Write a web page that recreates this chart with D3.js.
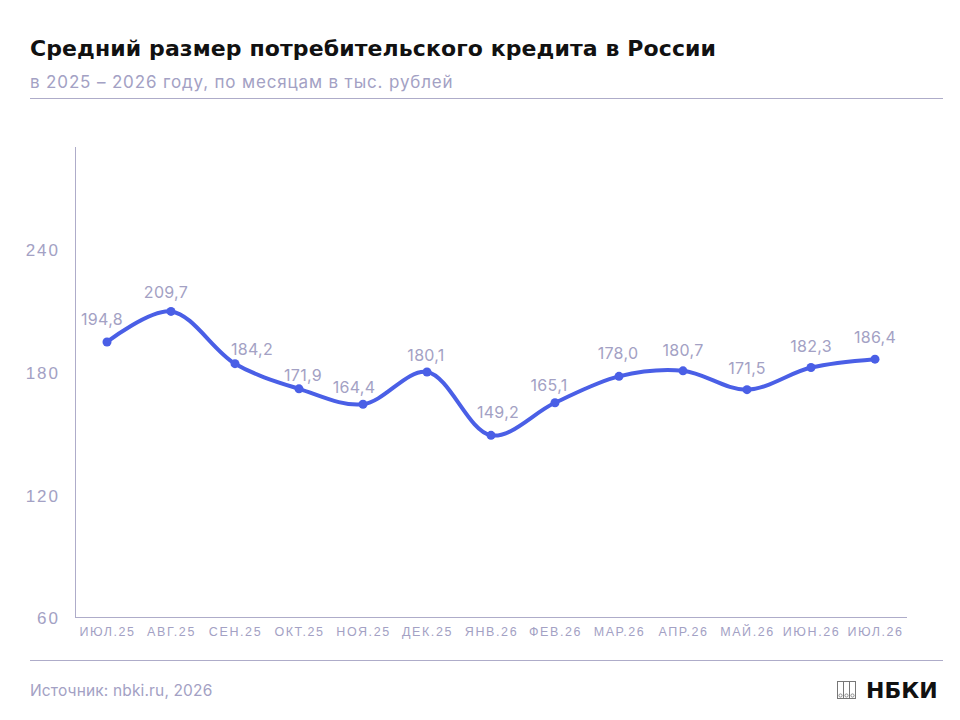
<!DOCTYPE html>
<html>
<head>
<meta charset="utf-8">
<script src="https://cdn.jsdelivr.net/npm/d3@7"></script>
<style>
  body { margin: 0; background: #fff; }
  svg { display: block; font-family: Inter, "Noto Sans", sans-serif; }
</style>
</head>
<body>
<svg id="chart" width="960" height="720"></svg>
<script>
var months = ["ИЮЛ.25", "АВГ.25", "СЕН.25", "ОКТ.25", "НОЯ.25", "ДЕК.25", "ЯНВ.26",
              "ФЕВ.26", "МАР.26", "АПР.26", "МАЙ.26", "ИЮН.26", "ИЮЛ.26"];
var values = [194.8, 209.7, 184.2, 171.9, 164.4, 180.1, 149.2, 165.1, 178.0, 180.7, 171.5, 182.3, 186.4];
var yTicks = [60, 120, 180, 240];

// hand placement of value labels, as in the original layout (dx, dy from the point)
var labelNudge = [[-5, -17], [-5, -13], [17, -9], [4, -8], [-9, -11], [-1, -11], [7, -17],
                  [-6, -12], [-1, -17], [0, -15], [0, -16], [0, -16], [0, -16]];

var svg = d3.select("#chart");
var grey = "#a3a1c4";
var lineColor = "#4a5fe6";

// header
svg.append("text").attr("x", 30).attr("y", 56)
  .style("font-family", "'DejaVu Sans', sans-serif")
  .style("font-size", "22px").style("font-weight", "bold").style("fill", "#111")
  .style("letter-spacing", "0.1px")
  .text("Средний размер потребительского кредита в России");
svg.append("text").attr("x", 30).attr("y", 88)
  .style("font-size", "17px").style("fill", grey).style("letter-spacing", "0.85px")
  .text("в 2025 – 2026 году, по месяцам в тыс. рублей");
svg.append("line").attr("x1", 30).attr("x2", 943).attr("y1", 98.5).attr("y2", 98.5)
  .style("stroke", "#aeacc9").style("stroke-width", 1);

var x = d3.scalePoint().domain(months).range([75, 907]).padding(0.5);
var y = d3.scaleLinear().domain([60, 290]).range([618, 147]);

// axes
var yAxis = svg.append("g").attr("transform", "translate(75,0)")
  .call(d3.axisLeft(y).tickValues(yTicks).tickSize(0).tickPadding(15));
yAxis.select(".domain").attr("d", "M0.5,147V617").style("stroke", "#aeacc9");
yAxis.selectAll("text").style("font-size", "17px").style("fill", grey)
  .style("letter-spacing", "2px").attr("dy", "0.35em");

var xAxis = svg.append("g").attr("transform", "translate(0,617)")
  .call(d3.axisBottom(x).tickSize(0).tickPadding(10));
xAxis.select(".domain").attr("d", "M75,0.5H907").style("stroke", "#aeacc9");
xAxis.selectAll("text").style("font-size", "12.5px").style("fill", grey)
  .style("letter-spacing", "1.6px");

// line
var pts = months.map(function(m, i) { return { m: m, v: values[i], n: labelNudge[i] }; });
var line = d3.line()
  .x(function(d) { return x(d.m); })
  .y(function(d) { return y(d.v); })
  .curve(d3.curveCatmullRom);

svg.append("path").datum(pts).attr("d", line)
  .style("fill", "none").style("stroke", lineColor).style("stroke-width", 4)
  .style("stroke-linejoin", "round");

svg.selectAll(".dot").data(pts).enter().append("circle")
  .attr("class", "dot")
  .attr("cx", function(d) { return x(d.m); })
  .attr("cy", function(d) { return y(d.v); })
  .attr("r", 4.5).style("fill", lineColor);

svg.selectAll(".lbl").data(pts).enter().append("text")
  .attr("class", "lbl")
  .attr("x", function(d) { return x(d.m) + d.n[0]; })
  .attr("y", function(d) { return y(d.v) + d.n[1]; })
  .attr("text-anchor", "middle")
  .style("font-size", "16px").style("fill", grey).style("letter-spacing", "0.3px")
  .text(function(d) { return d3.format(".1f")(d.v).replace(".", ","); });

// footer
svg.append("line").attr("x1", 30).attr("x2", 943).attr("y1", 660.5).attr("y2", 660.5)
  .style("stroke", "#aeacc9").style("stroke-width", 1);
svg.append("text").attr("x", 30).attr("y", 696)
  .style("font-size", "15.5px").style("fill", grey).style("letter-spacing", "0.15px")
  .text("Источник: nbki.ru, 2026");

// logo
var logo = svg.append("g").attr("transform", "translate(837.5,681.5)");
[0, 6, 12].forEach(function(dx) {
  logo.append("rect").attr("x", dx).attr("y", 0).attr("width", 6).attr("height", 17)
    .style("fill", "none").style("stroke", "#777").style("stroke-width", 1);
  logo.append("circle").attr("cx", dx + 3).attr("cy", 14).attr("r", 1.6)
    .style("fill", "none").style("stroke", "#777").style("stroke-width", 0.8);
});
svg.append("text").attr("x", 866).attr("y", 698)
  .style("font-family", "'DejaVu Sans', sans-serif")
  .style("font-size", "22px").style("font-weight", "bold").style("fill", "#111")
  .text("НБКИ");
</script>
</body>
</html>
